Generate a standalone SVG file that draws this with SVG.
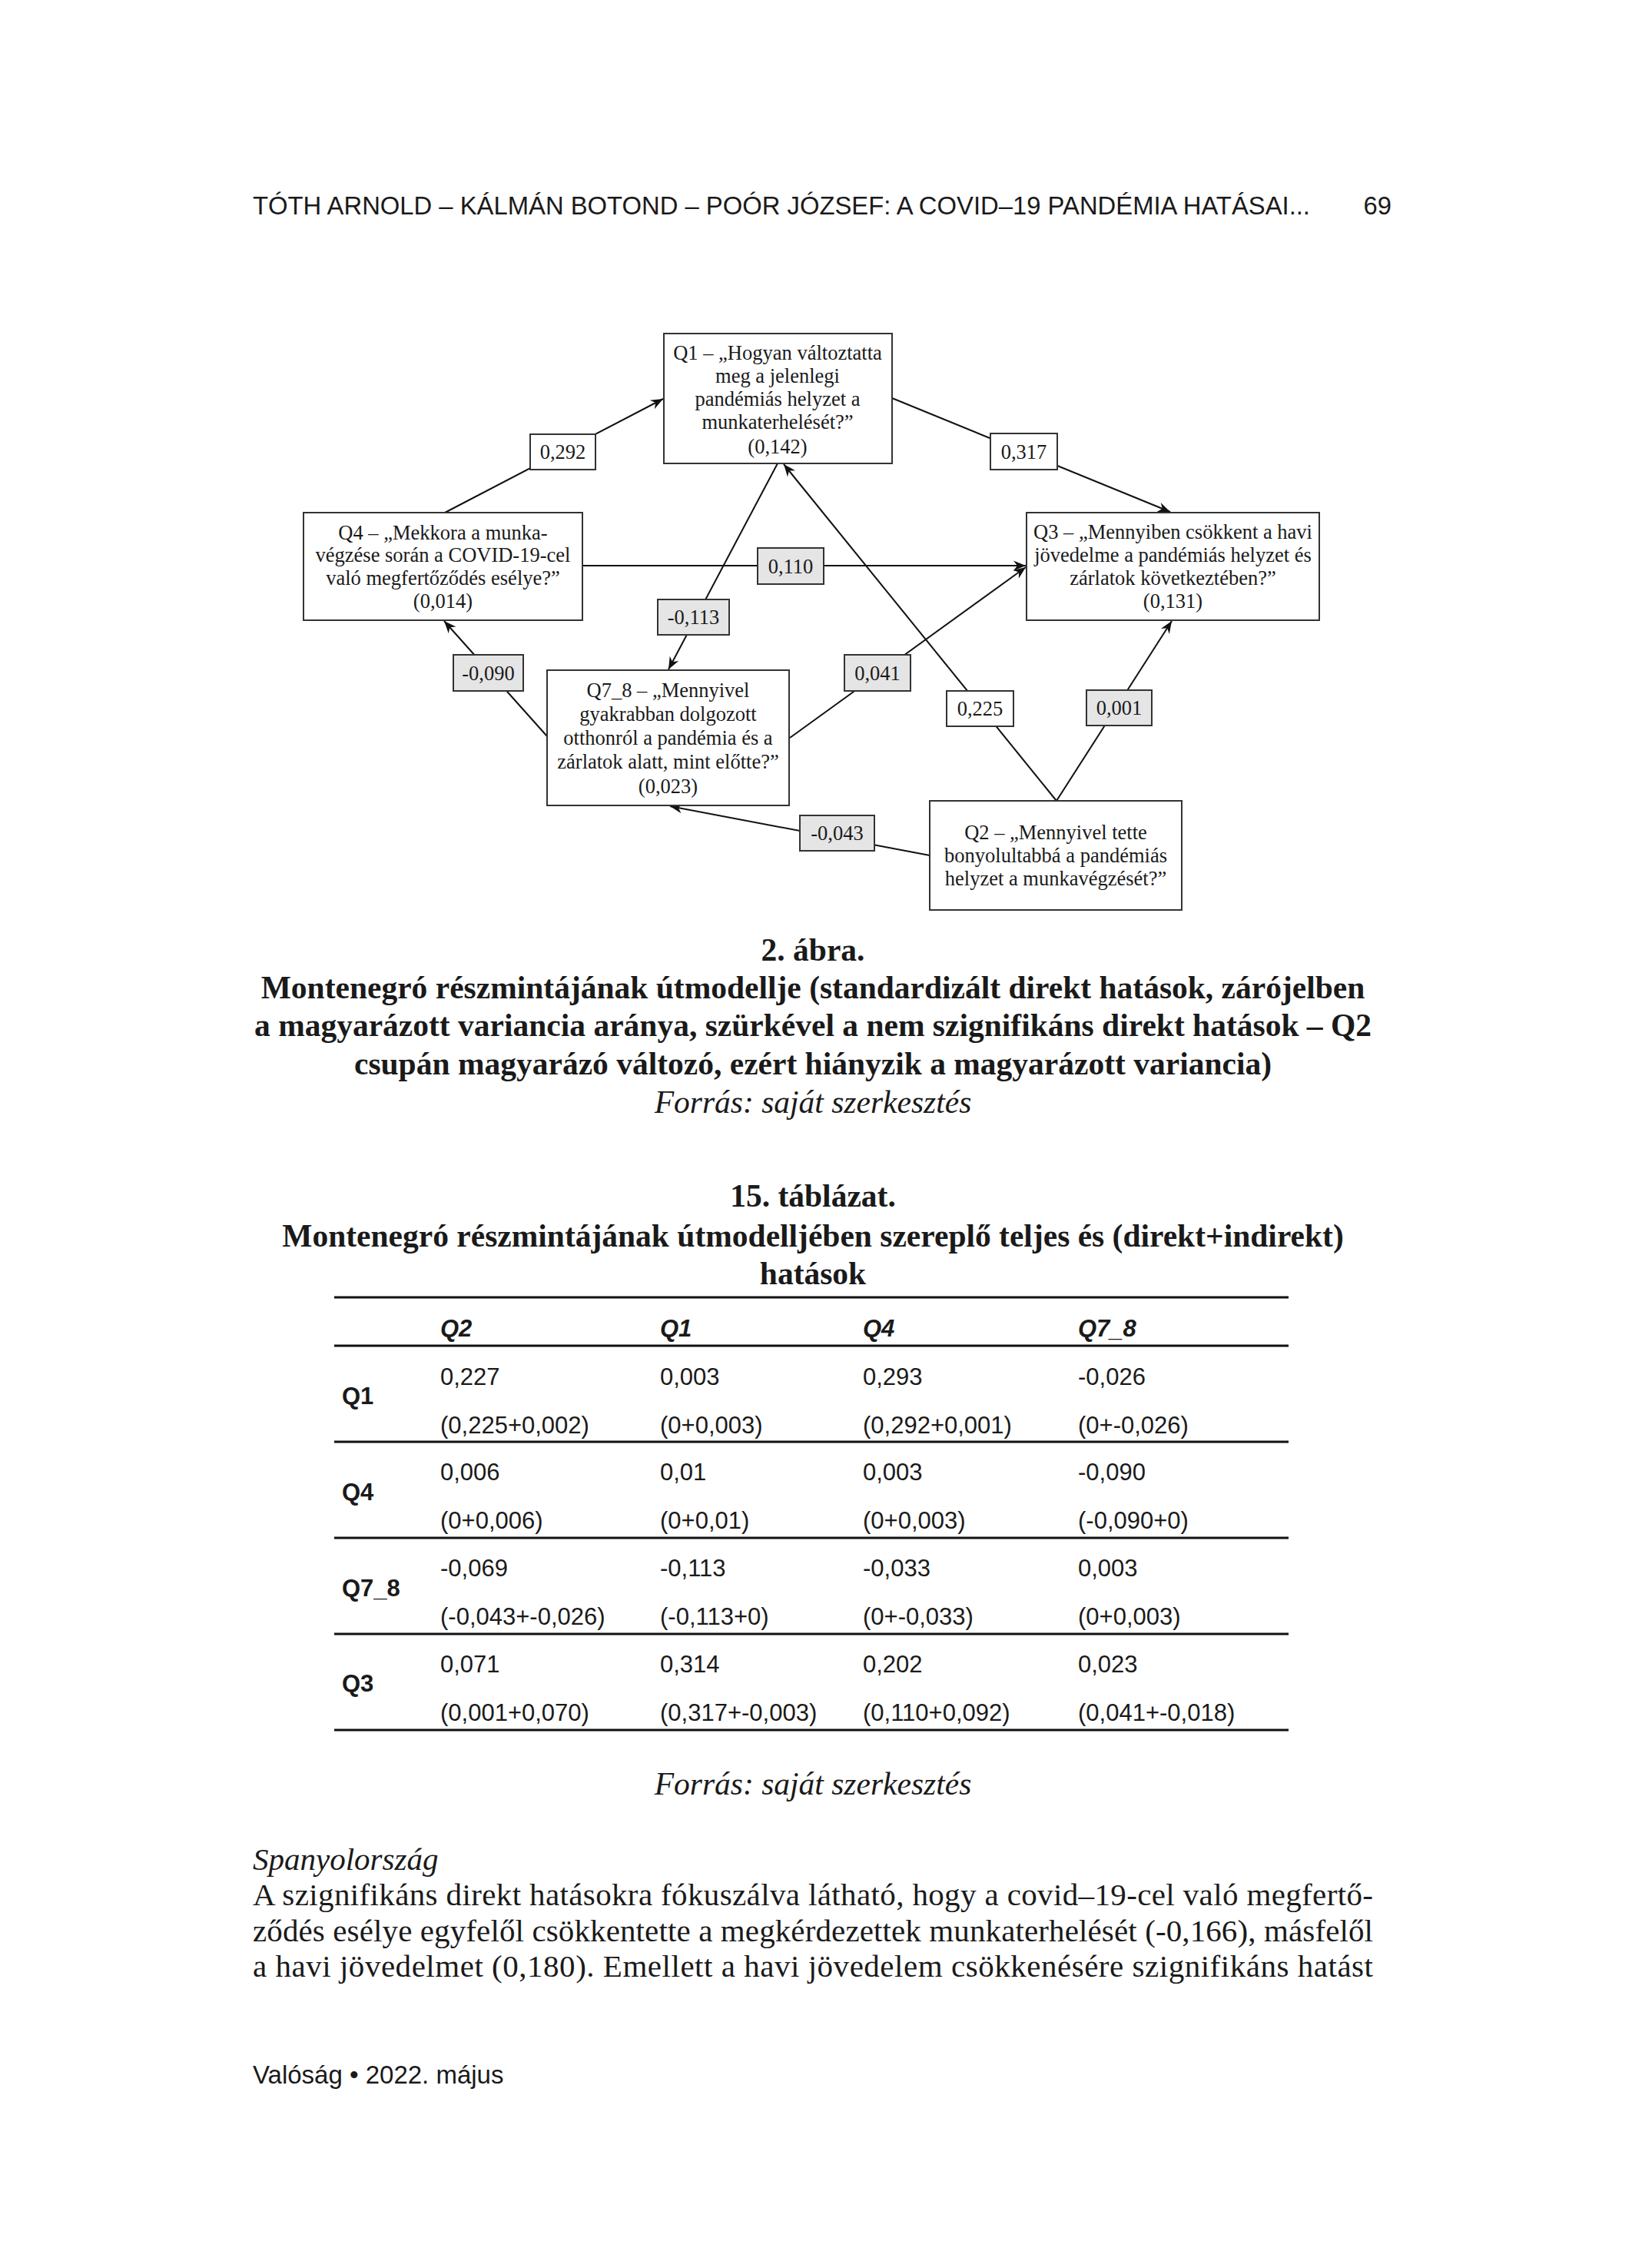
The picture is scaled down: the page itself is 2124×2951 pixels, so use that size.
<svg xmlns="http://www.w3.org/2000/svg" width="2124" height="2951" viewBox="0 0 2124 2951">
<style>
.serif{font-family:'Liberation Serif','Times New Roman',serif;fill:#1a1a1a}
.sans{font-family:'Liberation Sans',Arial,sans-serif;fill:#1a1a1a}
.nt{font-family:'Liberation Serif','Times New Roman',serif;font-size:26.5px;fill:#1a1a1a;text-anchor:middle}
.box{fill:#fff;stroke:#333;stroke-width:2}
.lbw{fill:#fff;stroke:#333;stroke-width:2}
.lbg{fill:#e5e5e5;stroke:#333;stroke-width:2}
.edge{stroke:#111;stroke-width:2;fill:none}
.cap{font-family:'Liberation Serif','Times New Roman',serif;font-size:41.5px;font-weight:bold;fill:#1a1a1a;text-anchor:middle}
.src{font-family:'Liberation Serif','Times New Roman',serif;font-size:41.5px;font-style:italic;fill:#1a1a1a;text-anchor:middle}
.body{font-family:'Liberation Serif','Times New Roman',serif;font-size:41px;fill:#1a1a1a}
.tv{font-family:'Liberation Sans',Arial,sans-serif;font-size:31px;fill:#1a1a1a}
.th{font-family:'Liberation Sans',Arial,sans-serif;font-size:31px;font-weight:bold;font-style:italic;fill:#1a1a1a}
.tr{font-family:'Liberation Sans',Arial,sans-serif;font-size:31px;font-weight:bold;fill:#1a1a1a}
.rule{stroke:#111;stroke-width:3}
</style>
<defs>
<marker id="arr" viewBox="-17 -8 19 16" refX="0" refY="0" markerWidth="19" markerHeight="16" markerUnits="userSpaceOnUse" orient="auto">
<path d="M0,0 L-16,-6.5 L-11,0 L-16,6.5 Z" fill="#111"/>
</marker>
</defs>
<rect width="2124" height="2951" fill="#fff"/>

<g id="header">
<text class="sans" x="329" y="279" font-size="32.8">TÓTH ARNOLD – KÁLMÁN BOTOND – POÓR JÓZSEF: A COVID–19 PANDÉMIA HATÁSAI...</text>
<text class="sans" x="1811" y="279" font-size="32.8" text-anchor="end">69</text>
</g>

<g id="connectors">
<line class="edge" x1="579" y1="667" x2="863" y2="519" marker-end="url(#arr)"/>
<line class="edge" x1="1161" y1="518" x2="1523" y2="666" marker-end="url(#arr)"/>
<line class="edge" x1="758" y1="736" x2="1335" y2="736" marker-end="url(#arr)"/>
<line class="edge" x1="1012" y1="603" x2="870" y2="871" marker-end="url(#arr)"/>
<line class="edge" x1="1375" y1="1042" x2="1020" y2="604" marker-end="url(#arr)"/>
<line class="edge" x1="1375" y1="1042" x2="1525" y2="808" marker-end="url(#arr)"/>
<line class="edge" x1="1210" y1="1113" x2="872" y2="1049" marker-end="url(#arr)"/>
<line class="edge" x1="712" y1="958" x2="578" y2="808" marker-end="url(#arr)"/>
<line class="edge" x1="1028" y1="960" x2="1335" y2="738" marker-end="url(#arr)"/>
</g>

<g id="edge-labels">
<g id="lbl-0292"><rect class="lbw" x="690" y="565" width="85" height="46"/><text class="nt" x="732.5" y="597">0,292</text></g>
<g id="lbl-0317"><rect class="lbw" x="1289" y="564" width="87" height="47"/><text class="nt" x="1332.5" y="597">0,317</text></g>
<g id="lbl-0110"><rect class="lbg" x="986" y="713" width="86" height="47"/><text class="nt" x="1029" y="746">0,110</text></g>
<g id="lbl-m0113"><rect class="lbg" x="856" y="780" width="93" height="46"/><text class="nt" x="902.5" y="812">-0,113</text></g>
<g id="lbl-m0090"><rect class="lbg" x="590" y="852" width="91" height="47"/><text class="nt" x="635.5" y="885">-0,090</text></g>
<g id="lbl-0041"><rect class="lbg" x="1099" y="852" width="86" height="47"/><text class="nt" x="1142" y="885">0,041</text></g>
<g id="lbl-0225"><rect class="lbw" x="1232" y="899" width="87" height="46"/><text class="nt" x="1275.5" y="931">0,225</text></g>
<g id="lbl-0001"><rect class="lbg" x="1414" y="898" width="85" height="46"/><text class="nt" x="1456.5" y="930">0,001</text></g>
<g id="lbl-m0043"><rect class="lbg" x="1041" y="1061" width="97" height="46"/><text class="nt" x="1089.5" y="1093">-0,043</text></g>
</g>

<g id="Q1">
<rect class="box" x="864" y="434" width="297" height="169"/>
<text class="nt" x="1012" y="468">Q1 – „Hogyan változtatta</text>
<text class="nt" x="1012" y="498">meg a jelenlegi</text>
<text class="nt" x="1012" y="528">pandémiás helyzet a</text>
<text class="nt" x="1012" y="558">munkaterhelését?”</text>
<text class="nt" x="1012" y="590">(0,142)</text>
</g>
<g id="Q4">
<rect class="box" x="395" y="667" width="363" height="140"/>
<text class="nt" x="576.5" y="702">Q4 – „Mekkora a munka-</text>
<text class="nt" x="576.5" y="731">végzése során a COVID-19-cel</text>
<text class="nt" x="576.5" y="761">való megfertőződés esélye?”</text>
<text class="nt" x="576.5" y="791">(0,014)</text>
</g>
<g id="Q3">
<rect class="box" x="1336" y="667" width="381" height="140"/>
<text class="nt" x="1526.5" y="701">Q3 – „Mennyiben csökkent a havi</text>
<text class="nt" x="1526.5" y="731">jövedelme a pandémiás helyzet és</text>
<text class="nt" x="1526.5" y="761">zárlatok következtében?”</text>
<text class="nt" x="1526.5" y="791">(0,131)</text>
</g>
<g id="Q7_8">
<rect class="box" x="712" y="872" width="315" height="176"/>
<text class="nt" x="869.5" y="907">Q7_8 – „Mennyivel</text>
<text class="nt" x="869.5" y="938">gyakrabban dolgozott</text>
<text class="nt" x="869.5" y="969">otthonról a pandémia és a</text>
<text class="nt" x="869.5" y="1000">zárlatok alatt, mint előtte?”</text>
<text class="nt" x="869.5" y="1032">(0,023)</text>
</g>
<g id="Q2">
<rect class="box" x="1210" y="1042" width="328" height="142"/>
<text class="nt" x="1374" y="1092">Q2 – „Mennyivel tette</text>
<text class="nt" x="1374" y="1122">bonyolultabbá a pandémiás</text>
<text class="nt" x="1374" y="1152">helyzet a munkavégzését?”</text>
</g>

<g id="figure-caption">
<text class="cap" x="1058" y="1250">2. ábra.</text>
<text class="cap" x="1058" y="1299">Montenegró részmintájának útmodellje (standardizált direkt hatások, zárójelben</text>
<text class="cap" x="1058" y="1348">a magyarázott variancia aránya, szürkével a nem szignifikáns direkt hatások – Q2</text>
<text class="cap" x="1058" y="1398">csupán magyarázó változó, ezért hiányzik a magyarázott variancia)</text>
<text class="src" x="1058" y="1448">Forrás: saját szerkesztés</text>
</g>

<g id="table-title">
<text class="cap" x="1058" y="1570">15. táblázat.</text>
<text class="cap" x="1058" y="1622">Montenegró részmintájának útmodelljében szereplő teljes és (direkt+indirekt)</text>
<text class="cap" x="1058" y="1671">hatások</text>
</g>

<g id="table">
<line class="rule" x1="435" y1="1688" x2="1677" y2="1688"/>
<line class="rule" x1="435" y1="1751" x2="1677" y2="1751"/>
<line class="rule" x1="435" y1="1876" x2="1677" y2="1876"/>
<line class="rule" x1="435" y1="2001" x2="1677" y2="2001"/>
<line class="rule" x1="435" y1="2126" x2="1677" y2="2126"/>
<line class="rule" x1="435" y1="2251" x2="1677" y2="2251"/>
<text class="th" x="573" y="1739">Q2</text>
<text class="th" x="859" y="1739">Q1</text>
<text class="th" x="1123" y="1739">Q4</text>
<text class="th" x="1403" y="1739">Q7_8</text>

<text class="tr" x="445" y="1827">Q1</text>
<text class="tv" x="573" y="1802">0,227</text>
<text class="tv" x="859" y="1802">0,003</text>
<text class="tv" x="1123" y="1802">0,293</text>
<text class="tv" x="1403" y="1802">-0,026</text>
<text class="tv" x="573" y="1865">(0,225+0,002)</text>
<text class="tv" x="859" y="1865">(0+0,003)</text>
<text class="tv" x="1123" y="1865">(0,292+0,001)</text>
<text class="tv" x="1403" y="1865">(0+-0,026)</text>

<text class="tr" x="445" y="1952">Q4</text>
<text class="tv" x="573" y="1926">0,006</text>
<text class="tv" x="859" y="1926">0,01</text>
<text class="tv" x="1123" y="1926">0,003</text>
<text class="tv" x="1403" y="1926">-0,090</text>
<text class="tv" x="573" y="1989">(0+0,006)</text>
<text class="tv" x="859" y="1989">(0+0,01)</text>
<text class="tv" x="1123" y="1989">(0+0,003)</text>
<text class="tv" x="1403" y="1989">(-0,090+0)</text>

<text class="tr" x="445" y="2077">Q7_8</text>
<text class="tv" x="573" y="2051">-0,069</text>
<text class="tv" x="859" y="2051">-0,113</text>
<text class="tv" x="1123" y="2051">-0,033</text>
<text class="tv" x="1403" y="2051">0,003</text>
<text class="tv" x="573" y="2114">(-0,043+-0,026)</text>
<text class="tv" x="859" y="2114">(-0,113+0)</text>
<text class="tv" x="1123" y="2114">(0+-0,033)</text>
<text class="tv" x="1403" y="2114">(0+0,003)</text>

<text class="tr" x="445" y="2201">Q3</text>
<text class="tv" x="573" y="2176">0,071</text>
<text class="tv" x="859" y="2176">0,314</text>
<text class="tv" x="1123" y="2176">0,202</text>
<text class="tv" x="1403" y="2176">0,023</text>
<text class="tv" x="573" y="2239">(0,001+0,070)</text>
<text class="tv" x="859" y="2239">(0,317+-0,003)</text>
<text class="tv" x="1123" y="2239">(0,110+0,092)</text>
<text class="tv" x="1403" y="2239">(0,041+-0,018)</text>
</g>

<g id="table-source">
<text class="src" x="1058" y="2335">Forrás: saját szerkesztés</text>
</g>

<g id="body-text">
<text class="body" x="329" y="2433" font-style="italic">Spanyolország</text>
<text class="body" x="329" y="2479" textLength="1458" lengthAdjust="spacing">A szignifikáns direkt hatásokra fókuszálva látható, hogy a covid–19-cel való megfertő-</text>
<text class="body" x="329" y="2526" textLength="1458" lengthAdjust="spacing">ződés esélye egyfelől csökkentette a megkérdezettek munkaterhelését (-0,166), másfelől</text>
<text class="body" x="329" y="2572" textLength="1458" lengthAdjust="spacing">a havi jövedelmet (0,180). Emellett a havi jövedelem csökkenésére szignifikáns hatást</text>
</g>

<g id="footer">
<text class="sans" x="329" y="2711" font-size="33">Valóság • 2022. május</text>
</g>
</svg>
